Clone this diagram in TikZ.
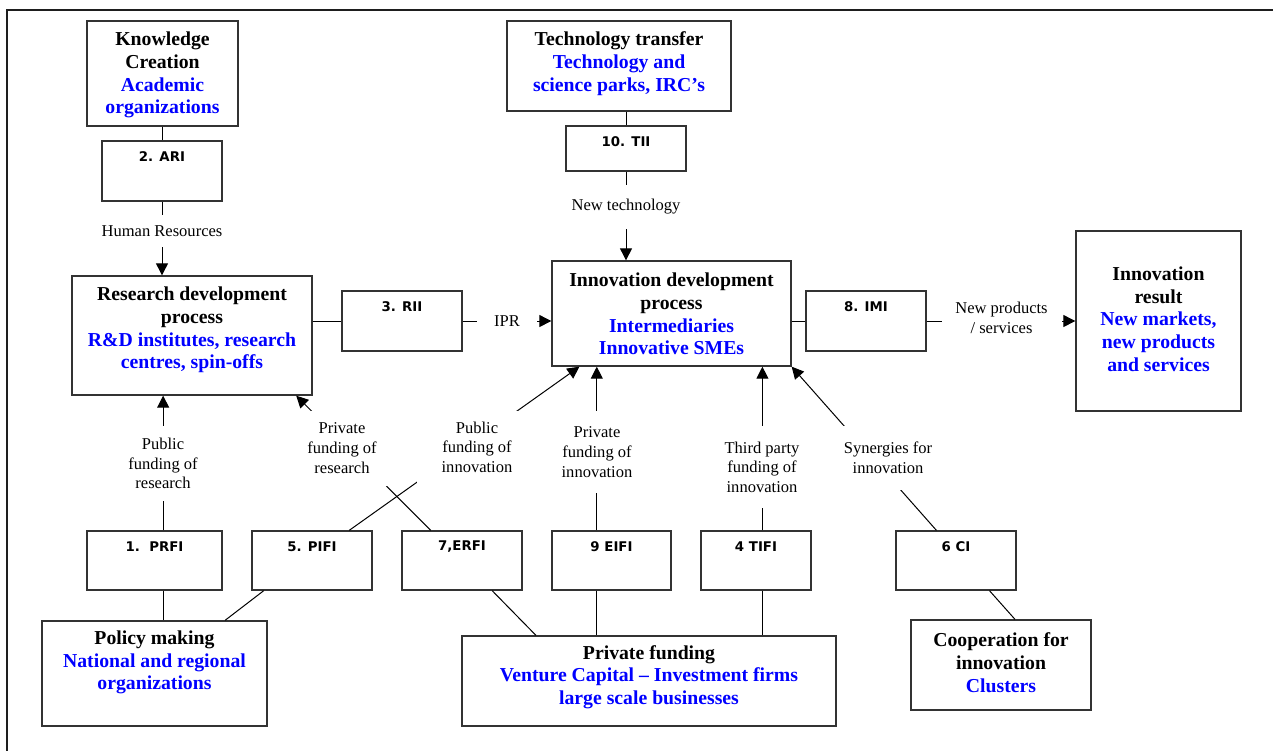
\documentclass[tikz,border=0pt]{standalone}
\usepackage{fontspec}
\setmainfont{Liberation Serif}
\newfontfamily\numfam{DejaVu Sans}
\usetikzlibrary{arrows.meta}
\definecolor{orgblue}{RGB}{0,0,255}
\newcommand{\boxheadfont}{\fontsize{14.8}{17}\selectfont\bfseries}
\newcommand{\boxnumfont}{\numfam\fontsize{10}{12}\selectfont\bfseries}
\newcommand{\linktextfont}{\fontsize{12.4}{14.7}\selectfont}
\newcommand{\orgtext}[1]{\textcolor{orgblue}{#1}}

\tikzset{every picture/.style={line width=0.75pt}}
\tikzset{
  pbox/.style 2 args={draw={rgb, 255:red, 51; green, 51; blue, 51}, line width=1pt, inner sep=0pt,
    minimum width=#1*0.75pt, minimum height=#2*0.75pt},
  headtxt/.style={align=center, font=\boxheadfont, inner sep=0pt},
  numtxt/.style={font=\boxnumfont, inner sep=0pt},
  linktxt/.style 2 args={fill=white, align=center, font=\linktextfont, inner sep=0pt,
    minimum width=#1*0.75pt, minimum height=#2*0.75pt},
  link/.style={draw, line width=0.75pt},
  arr/.style={-{Triangle[length=9pt,width=9pt]}},
  frame/.style={draw={rgb, 255:red, 30; green, 30; blue, 30}, line width=1.8pt}
}

\begin{document}
\begin{tikzpicture}[x=0.75pt,y=0.75pt,yscale=-1,xscale=1]
\useasboundingbox (0,0) rectangle (1273,751);

%Frame
\draw [frame] (1273,10) -- (7,10) -- (7,751) ;

%Flowchart: Process (top row)
\node [pbox={151}{105}] (kc) at (162.5,73.5) {};
\node [pbox={120}{60}] (ari) at (162,171) {};
\node [pbox={224}{90}] (tt) at (619,66) {};
\node [pbox={120}{45}] (tii) at (626,148.5) {};
%Flowchart: Process (middle row)
\node [pbox={240}{119}] (rd) at (192,335.5) {};
\node [pbox={120}{60}] (rii) at (402,321) {};
\node [pbox={239}{105}] (inn) at (671.5,313.5) {};
\node [pbox={120}{60}] (imi) at (866,321) {};
\node [pbox={165}{180}] (res) at (1158.5,321) {};
%Flowchart: Process (funding boxes)
\node [pbox={135}{59}] (prfi) at (154.5,560.5) {};
\node [pbox={120}{59}] (pifi) at (312,560.5) {};
\node [pbox={120}{59}] (erfi) at (462,560.5) {};
\node [pbox={119}{59}] (eifi) at (611.5,560.5) {};
\node [pbox={110}{59}] (tifi) at (756,560.5) {};
\node [pbox={120}{59}] (ci) at (956,560.5) {};
%Flowchart: Process (bottom row)
\node [pbox={225}{105}] (pol) at (154.5,673.5) {};
\node [pbox={374}{90}] (pf) at (649,681) {};
\node [pbox={180}{90}] (coop) at (1001,665) {};

% Text Node
\node [headtxt] (kctxt) at (162.5,75) {Knowledge\\Creation\\\orgtext{Academic}\\\orgtext{organizations}};
% Text Node
\node [headtxt] (tttxt) at (619,63.5) {Technology transfer\\\orgtext{Technology and}\\\orgtext{science parks, IRC’s}};
% Text Node
\node [headtxt] (rdtxt) at (192,330) {Research development\\process\\\orgtext{R\&D institutes, research}\\\orgtext{centres, spin-offs}};
% Text Node
\node [headtxt] (inntxt) at (671.5,314) {Innovation development\\process\\\orgtext{Intermediaries}\\\orgtext{Innovative SMEs}};
% Text Node
\node [headtxt] (restxt) at (1158.5,319) {Innovation\\result\\\orgtext{New markets,}\\\orgtext{new products}\\\orgtext{and services}};
% Text Node
\node [headtxt] (poltxt) at (154.5,662.5) {Policy making\\\orgtext{National and regional}\\\orgtext{organizations}};
% Text Node
\node [headtxt] (pftxt) at (649,677) {Private funding\\\orgtext{Venture Capital – Investment firms}\\\orgtext{large scale businesses}};
% Text Node
\node [headtxt] (cooptxt) at (1001,662.5) {Cooperation for\\innovation\\\orgtext{Clusters}};

% Text Node
\node [numtxt] (aritxt) at (162,157) {2. ARI};
\node [numtxt] (tiitxt) at (626,142) {10. TII};
\node [numtxt] (riitxt) at (402,307) {3. RII};
\node [numtxt] (imitxt) at (866,307) {8. IMI};
\node [numtxt] (prfitxt) at (154.5,547) {1.\ \ PRFI};
\node [numtxt] (pifitxt) at (312,547) {5. PIFI};
\node [numtxt] (erfitxt) at (462,547) {7,ERFI};
\node [numtxt] (eifitxt) at (611.5,547) {9 EIFI};
\node [numtxt] (tifitxt) at (756,547) {4 TIFI};
\node [numtxt] (citxt) at (956,547) {6 CI};

%Straight Lines
\draw [link] (ari.north |- kc.south) -- (ari.north) ;
\draw [link] (tii.north |- tt.south) -- (tii.north) ;
\draw [link, arr] (ari.south) -- (ari.south |- rd.north) ;
\draw [link, arr] (tii.south) -- (tii.south |- inn.north) ;
\draw [link] (rd.east |- rii.west) -- (rii.west) ;
\draw [link, arr] (rii.east) -- (rii.east -| inn.west) ;
\draw [link] (inn.east |- imi.west) -- (imi.west) ;
\draw [link, arr] (imi.east) -- (imi.east -| res.west) ;
%Straight Lines (funding)
\draw [link, arr] (prfi.74) -- (prfi.74 |- rd.south) ;
\draw [link, arr] (erfi.136) -- (rd.330) ;
\draw [link, arr] (pifi.39) -- (inn.210) ;
\draw [link, arr] (eifi.116) -- (eifi.116 |- inn.south) ;
\draw [link, arr] (tifi.78) -- (tifi.78 |- inn.south) ;
\draw [link, arr] (ci.123) -- (inn.south east) ;
%Straight Lines (sources)
\draw [link] (prfi.286) -- (prfi.286 |- pol.north) ;
\draw [link] (pifi.212) -- (pol.37) ;
\draw [link] (erfi.315) -- (pf.158) ;
\draw [link] (eifi.244) -- (eifi.244 |- pf.north) ;
\draw [link] (tifi.282) -- (tifi.282 |- pf.north) ;
\draw [link] (ci.318) -- (coop.73) ;

% Text Node
\node [linktxt={130}{32}] (hrtxt) at (162,231) {Human Resources};
% Text Node
\node [linktxt={110}{44}] (nttxt) at (626,207) {New technology};
% Text Node
\node [linktxt={60}{24}] (iprtxt) at (507,321) {IPR};
% Text Node
\node [linktxt={120}{44}] (nptxt) at (1001.5,318) {New products\\/ services};
% Text Node
\node [linktxt={90}{75}] (pubrestxt) at (163,463.5) {Public\\funding of\\research};
% Text Node
\node [linktxt={110}{75}] (privrestxt) at (342,448) {Private\\funding of\\research};
% Text Node
\node [linktxt={120}{72}] (pubinntxt) at (477,447) {Public\\funding of\\innovation};
% Text Node
\node [linktxt={96}{82}] (privinntxt) at (597,452) {Private\\funding of\\innovation};
% Text Node
\node [linktxt={100}{82}] (thirdtxt) at (762,467) {Third party\\funding of\\innovation};
% Text Node
\node [linktxt={110}{64}] (syntxt) at (888,458) {Synergies for\\innovation};

\end{tikzpicture}
\end{document}
